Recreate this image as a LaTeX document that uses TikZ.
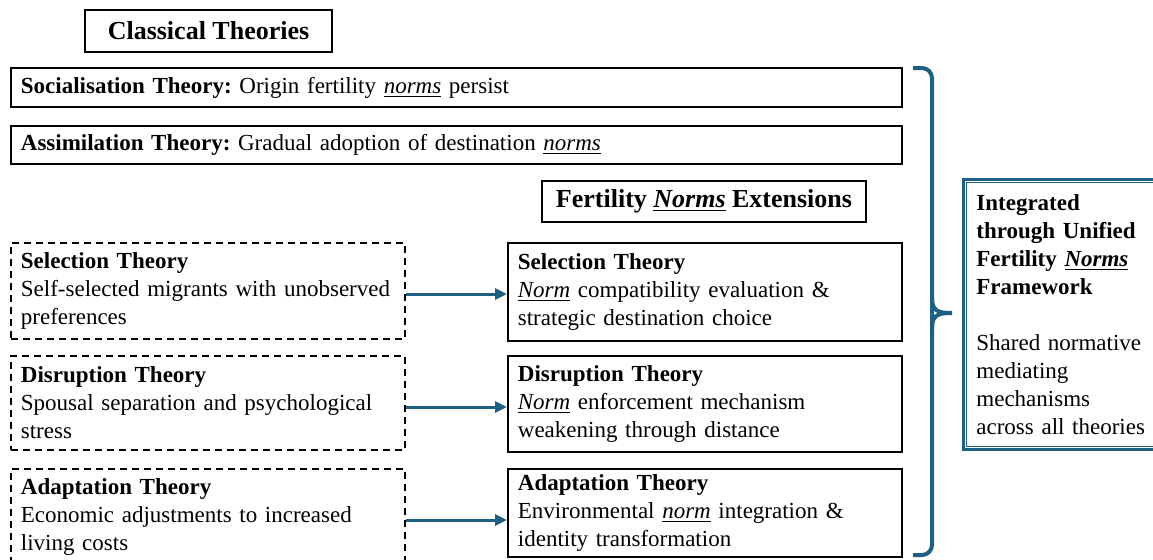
\documentclass[tikz,border=0pt]{standalone}
\usepackage{fontspec}
\setmainfont{Liberation Serif}
\usetikzlibrary{arrows.meta}
\definecolor{normblue}{RGB}{30,96,130}
\frenchspacing

\begin{document}
\begin{tikzpicture}[x=0.5pt,y=-0.5pt,
    every node/.style={font=\fontsize{11.5}{14}\selectfont, inner sep=0pt},
    box/.style={draw, line width=0.9pt, inner xsep=5pt, align=left, text width=187pt},
    dbox/.style={box, dash pattern=on 3.5pt off 2.5pt},
    titlebox/.style={draw, line width=0.9pt, align=center, font=\fontsize{13}{15}\selectfont\bfseries},
    arr/.style={draw=normblue, line width=1.5pt, -{Triangle[length=6pt,width=5.5pt]}}]
    \useasboundingbox (0,0) rectangle (1153,559);

    % Classical theories
    \node[titlebox, minimum width=123.5pt, minimum height=21pt] (classic) at (208.5,31) {Classical Theories};
    \node[box, anchor=north west, text width=435.5pt, minimum height=19.5pt] (soc) at (10,67)
        {\textbf{Socialisation Theory:} Origin fertility \underline{\textit{norms}} persist};
    \node[box, anchor=north west, text width=435.5pt, minimum height=19pt] (assim) at (10,125)
        {\textbf{Assimilation Theory:} Gradual adoption of destination \underline{\textit{norms}}};

    % Extensions
    \node[titlebox, minimum width=162pt, minimum height=20.5pt] (ext) at (704,201.5)
        {Fertility \underline{\textit{Norms}} Extensions};

    \foreach \nm/\top/\hd/\hs/\ttl/\old/\new in {
        sel/242/48/49/Selection Theory/{Self-selected migrants with unobserved\\preferences}/{\underline{\textit{Norm}} compatibility evaluation \&\\strategic destination choice},
        dis/355/47/48/Disruption Theory/{Spousal separation and psychological\\stress}/{\underline{\textit{Norm}} enforcement mechanism\\weakening through distance},
        ada/468/48/44/Adaptation Theory/{Economic adjustments to increased\\living costs}/{Environmental \underline{\textit{norm}} integration \&\\identity transformation}} {

        \node[dbox, anchor=north west, minimum height=\hd pt] (d\nm) at (10,\top) {\textbf{\ttl}\\\old};
        \node[box, anchor=north west, minimum height=\hs pt] (s\nm) at (507,\top) {\textbf{\ttl}\\\new};
        \draw[arr] ([yshift=-26pt]d\nm.north east) -- ([yshift=-26pt]d\nm.north east -| s\nm.west);
    }

    % Brace and framework
    \draw[normblue, line width=2pt, rounded corners=5pt] (913,68) -- (932,68) -- (932,555) -- (913,555);
    \draw[normblue, line width=2pt] (932,298) .. controls (932,311) and (938,313) .. (952,313);
    \draw[normblue, line width=2pt] (932,328) .. controls (932,315) and (938,313) .. (952,313);

    \node[draw=normblue, line width=1.4pt, anchor=north west,
          minimum width=110pt, minimum height=135pt, inner xsep=6.5pt,
          text width=97pt, align=left] (integ) at (962,178)
        {{\bfseries Integrated\\through Unified\\Fertility \underline{\textit{Norms}}\\Framework}\\[14pt]
         Shared normative\\mediating\\mechanisms\\across all theories};
    \draw[normblue, line width=0.5pt] ([shift={(2.2pt,-2.2pt)}]integ.north west) rectangle ([shift={(-2.2pt,2.2pt)}]integ.south east);
\end{tikzpicture}
\end{document}
